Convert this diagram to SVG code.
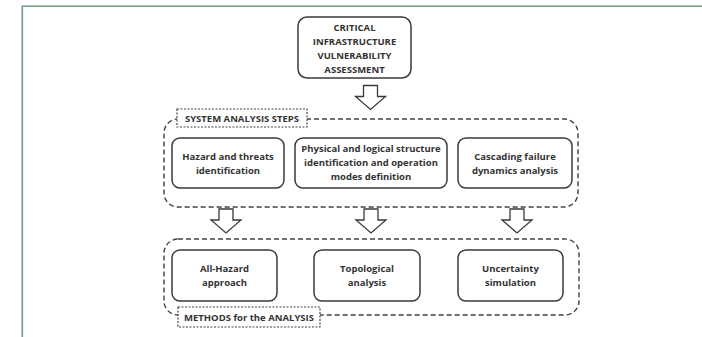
<svg xmlns="http://www.w3.org/2000/svg" width="702" height="337" viewBox="0 0 702 337">
<defs>
<style>
.frame{fill:none;stroke:#6a9e7f;stroke-width:1.6}
.box{fill:#fff;stroke:#3a3a3a;stroke-width:1.5}
.group{fill:none;stroke:#444;stroke-width:1.4;stroke-dasharray:5 3}
.lbl{fill:#fff;stroke:#444;stroke-width:1.2;stroke-dasharray:2 1.5}
.arrow{fill:#fff;stroke:#3a3a3a;stroke-width:1.3;stroke-linejoin:miter}
text{font-family:"Open Sans","Liberation Sans",sans-serif;font-weight:bold;fill:#333;text-anchor:middle}
.t{font-size:9.5px}
</style>
<path id="arr" class="arrow" d="M-7 0 H7 V11 H15 L0 24 L-15 11 H-7 Z"/>
</defs>
<rect width="702" height="337" fill="#fff"/>
<path class="frame" d="M22.3 337 V6.3 H702"/>

<g id="connectors">
<use href="#arr" x="370.5" y="85.5"/>
<use href="#arr" x="226" y="209"/>
<use href="#arr" x="371" y="209"/>
<use href="#arr" x="517" y="209"/>
</g>

<g id="top">
<rect class="box" x="298" y="17" width="113" height="61" rx="9"/>
<text class="t" x="354.5" y="31">CRITICAL</text>
<text class="t" x="354.5" y="45">INFRASTRUCTURE</text>
<text class="t" x="354.5" y="59">VULNERABILITY</text>
<text class="t" x="354.5" y="73">ASSESSMENT</text>
</g>

<g id="system-group">
<rect class="group" x="164" y="119" width="414" height="88" rx="14"/>
<rect class="lbl" x="177" y="109" width="130" height="18"/>
<text class="t" x="242" y="121.5">SYSTEM ANALYSIS STEPS</text>
</g>

<g id="hazard">
<rect class="box" x="172" y="138" width="112" height="50" rx="8"/>
<text class="t" x="228" y="160">Hazard and threats</text>
<text class="t" x="228" y="174">identification</text>
</g>

<g id="physical">
<rect class="box" x="295" y="138" width="152" height="50" rx="8"/>
<text class="t" x="371" y="152">Physical and logical structure</text>
<text class="t" x="371" y="166">identification and operation</text>
<text class="t" x="371" y="180">modes definition</text>
</g>

<g id="cascading">
<rect class="box" x="458" y="138" width="114" height="50" rx="8"/>
<text class="t" x="515" y="160">Cascading failure</text>
<text class="t" x="515" y="174">dynamics analysis</text>
</g>

<g id="methods-group">
<rect class="group" x="164" y="239" width="415" height="76" rx="14"/>
<rect class="lbl" x="178" y="307" width="142" height="20"/>
<text class="t" x="249" y="320.5">METHODS for the ANALYSIS</text>
</g>

<g id="allhazard">
<rect class="box" x="172" y="250" width="105" height="51" rx="8"/>
<text class="t" x="224.5" y="272">All-Hazard</text>
<text class="t" x="224.5" y="286">approach</text>
</g>

<g id="topological">
<rect class="box" x="314" y="250" width="106" height="51" rx="8"/>
<text class="t" x="367" y="272">Topological</text>
<text class="t" x="367" y="286">analysis</text>
</g>

<g id="uncertainty">
<rect class="box" x="458" y="250" width="105" height="51" rx="8"/>
<text class="t" x="510.5" y="272">Uncertainty</text>
<text class="t" x="510.5" y="286">simulation</text>
</g>
</svg>
